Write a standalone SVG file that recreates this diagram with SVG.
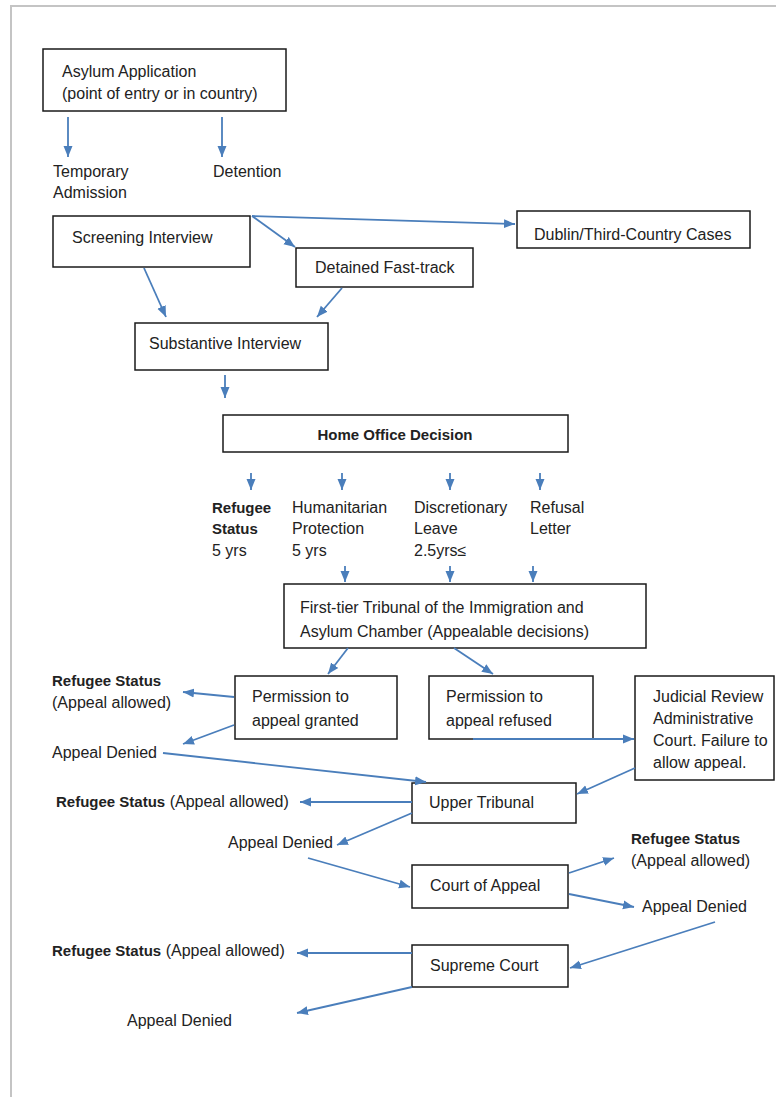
<svg xmlns="http://www.w3.org/2000/svg" width="776" height="1097" viewBox="0 0 776 1097">
<style>
text{font-family:"Liberation Sans",Arial,sans-serif;font-size:16px;fill:#222}
.b{font-weight:bold;font-size:15px}
.box{fill:#fff;stroke:#1a1a1a;stroke-width:1.5}
.c line{stroke:#4a7ebb;stroke-width:1.8;marker-end:url(#ah)}
.page{stroke:#c4c4c4;stroke-width:2;fill:none}
</style>
<defs>
<marker id="ah" markerUnits="userSpaceOnUse" markerWidth="12" markerHeight="10" refX="11" refY="5" orient="auto">
<path d="M0,0.5 L11,5 L0,9.5 z" fill="#4a7ebb"/>
</marker>
</defs>
<rect width="776" height="1097" fill="#fff"/>
<path class="page" d="M11,1097 V6 H776"/>

<g id="asylum"><rect class="box" x="43" y="49" width="243" height="62"/><text x="62" y="77">Asylum Application</text><text x="62" y="99">(point of entry or in country)</text></g>
<g id="temporary"><text x="53" y="177">Temporary</text><text x="53" y="198">Admission</text></g>
<g id="detention"><text x="213" y="177">Detention</text></g>
<g id="screening"><rect class="box" x="53" y="216" width="197" height="51"/><text x="72" y="243">Screening Interview</text></g>
<g id="dublin"><rect class="box" x="517" y="211" width="233" height="37"/><text x="534" y="240">Dublin/Third-Country Cases</text></g>
<g id="fasttrack"><rect class="box" x="296" y="248" width="177" height="39"/><text x="315" y="273">Detained Fast-track</text></g>
<g id="substantive"><rect class="box" x="135" y="323" width="193" height="47"/><text x="149" y="349">Substantive Interview</text></g>
<g id="homeoffice"><rect class="box" x="223" y="415" width="345" height="37"/><text class="b" x="395" y="440" text-anchor="middle">Home Office Decision</text></g>
<g id="refugee1"><text class="b" x="212" y="513">Refugee</text><text class="b" x="212" y="534">Status</text><text x="212" y="556">5 yrs</text></g>
<g id="humanitarian"><text x="292" y="513">Humanitarian</text><text x="292" y="534">Protection</text><text x="292" y="556">5 yrs</text></g>
<g id="discretionary"><text x="414" y="513">Discretionary</text><text x="414" y="534">Leave</text><text x="414" y="556">2.5yrs≤</text></g>
<g id="refusal"><text x="530" y="513">Refusal</text><text x="530" y="534">Letter</text></g>
<g id="firsttier"><rect class="box" x="284" y="584" width="362" height="64"/><text x="300" y="613">First-tier Tribunal of the Immigration and</text><text x="300" y="637">Asylum Chamber (Appealable decisions)</text></g>
<g id="granted"><rect class="box" x="235" y="676" width="162" height="63"/><text x="252" y="702">Permission to</text><text x="252" y="726">appeal granted</text></g>
<g id="refused"><rect class="box" x="429" y="676" width="164" height="63"/><text x="446" y="702">Permission to</text><text x="446" y="726">appeal refused</text></g>
<g id="judicial"><rect class="box" x="635" y="676" width="139" height="104"/><text x="653" y="702">Judicial Review</text><text x="653" y="724">Administrative</text><text x="653" y="746">Court. Failure to</text><text x="653" y="768">allow appeal.</text></g>
<g id="refugee2"><text class="b" x="52" y="686">Refugee Status</text><text x="52" y="708">(Appeal allowed)</text></g>
<g id="denied1"><text x="52" y="758">Appeal Denied</text></g>
<g id="upper"><rect class="box" x="412" y="783" width="164" height="40"/><text x="429" y="808">Upper Tribunal</text></g>
<g id="refugee3"><text x="56" y="807"><tspan class="b">Refugee Status</tspan> (Appeal allowed)</text></g>
<g id="denied2"><text x="228" y="848">Appeal Denied</text></g>
<g id="courtappeal"><rect class="box" x="412" y="865" width="156" height="43"/><text x="430" y="891">Court of Appeal</text></g>
<g id="refugee4"><text class="b" x="631" y="844">Refugee Status</text><text x="631" y="866">(Appeal allowed)</text></g>
<g id="denied3"><text x="642" y="912">Appeal Denied</text></g>
<g id="supreme"><rect class="box" x="412" y="945" width="156" height="42"/><text x="430" y="971">Supreme Court</text></g>
<g id="refugee5"><text x="52" y="956"><tspan class="b">Refugee Status</tspan> (Appeal allowed)</text></g>
<g id="denied4"><text x="127" y="1026">Appeal Denied</text></g>

<g id="connectors" class="c">
<line x1="68" y1="117" x2="68" y2="157"/>
<line x1="222" y1="117" x2="222" y2="157"/>
<line x1="252" y1="216" x2="515" y2="224"/>
<line x1="252" y1="216" x2="295" y2="247"/>
<line x1="144" y1="268" x2="166" y2="317"/>
<line x1="342" y1="288" x2="317" y2="317"/>
<line x1="225" y1="375" x2="225" y2="398"/>
<line x1="251" y1="473" x2="251" y2="490"/>
<line x1="342" y1="473" x2="342" y2="490"/>
<line x1="450" y1="473" x2="450" y2="490"/>
<line x1="540" y1="473" x2="540" y2="490"/>
<line x1="345" y1="566" x2="345" y2="582"/>
<line x1="450" y1="566" x2="450" y2="582"/>
<line x1="533" y1="566" x2="533" y2="582"/>
<line x1="348" y1="648" x2="328" y2="674"/>
<line x1="454" y1="648" x2="493" y2="674"/>
<line x1="234" y1="697" x2="183" y2="692"/>
<line x1="234" y1="725" x2="183" y2="744"/>
<line x1="473" y1="739" x2="634" y2="739"/>
<line x1="163" y1="753" x2="426" y2="782"/>
<line x1="635" y1="768" x2="577" y2="794"/>
<line x1="412" y1="802" x2="300" y2="802"/>
<line x1="412" y1="813" x2="337" y2="845"/>
<line x1="308" y1="858" x2="410" y2="887"/>
<line x1="569" y1="873" x2="614" y2="858"/>
<line x1="569" y1="894" x2="634" y2="907"/>
<line x1="715" y1="922" x2="570" y2="968"/>
<line x1="412" y1="953" x2="297" y2="953"/>
<line x1="412" y1="987" x2="297" y2="1013"/>
</g>
</svg>
